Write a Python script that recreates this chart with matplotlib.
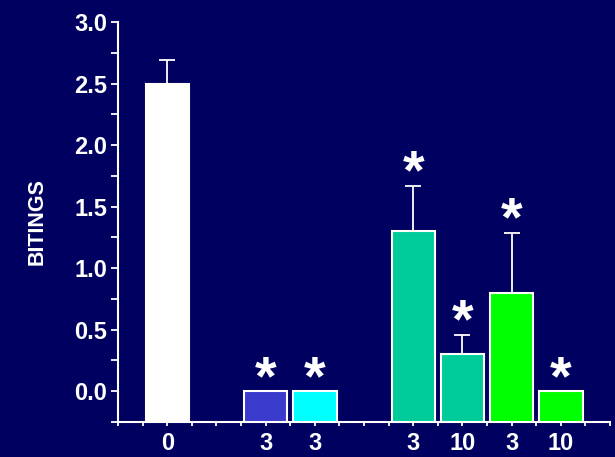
import matplotlib
matplotlib.use("Agg")
import matplotlib.pyplot as plt
from matplotlib.ticker import MultipleLocator

# bar data
positions = [1, 3, 4, 6, 7, 8, 9]
labels = ["0", "3", "3", "3", "10", "3", "10"]
values = [2.5, 0.0, 0.0, 1.30, 0.30, 0.80, 0.0]
errors = [0.19, 0, 0, 0.37, 0.16, 0.49, 0]
colors = ["#ffffff", "#3a3acc", "#00ffff", "#00cc99", "#00cc99", "#00ff00", "#00ff00"]
starred = [False, True, True, True, True, True, True]

BG = "#000060"
YMIN = -0.25

plt.rcParams["font.family"] = ["Liberation Sans", "DejaVu Sans"]
plt.rcParams["font.weight"] = "bold"

fig = plt.figure(figsize=(6.15, 4.57), dpi=100, facecolor=BG)
ax = fig.add_axes([0.192, 0.0766, 0.8, 0.875], facecolor=BG)

heights = [v - YMIN for v in values]
ax.bar(positions, heights, bottom=YMIN, width=0.88, color=colors,
       edgecolor="white", linewidth=1.5, zorder=3)
for x, v, e in zip(positions, values, errors):
    if e > 0:
        ax.errorbar(x, v, yerr=[[0], [e]], color="white", capsize=6,
                    elinewidth=1.3, capthick=1.3, zorder=2)

# significance marks sit just above each bar or its error bar
for x, v, e, s in zip(positions, values, errors, starred):
    if s:
        ax.annotate("*", xy=(x, v + e), xytext=(0, -2), textcoords="offset points",
                    color="white", fontsize=40, ha="center", va="baseline",
                    fontweight="bold")

ax.set_xlim(0, 10)
ax.set_ylim(YMIN, 3.0)
ax.set_xticks(positions)
ax.set_xticklabels(labels)
ax.xaxis.set_minor_locator(MultipleLocator(0.5))
ax.yaxis.set_minor_locator(MultipleLocator(0.25))
ax.set_yticks([0, 0.5, 1.0, 1.5, 2.0, 2.5, 3.0])
ax.set_yticklabels(["0.0", "0.5", "1.0", "1.5", "2.0", "2.5", "3.0"])

for side in ["top", "right"]:
    ax.spines[side].set_visible(False)
for side in ["left", "bottom"]:
    ax.spines[side].set_color("white")
    ax.spines[side].set_linewidth(1.5)

ax.tick_params(which="both", colors="white", width=1.3, labelcolor="white")
ax.tick_params(axis="y", which="both", length=5, labelsize=17, pad=3)
ax.tick_params(axis="x", which="both", length=3, labelsize=17, pad=4)
ax.set_ylabel("BITINGS", color="white", fontsize=15.5, fontweight="bold", labelpad=19)

fig.savefig("out.png", dpi=100, facecolor=BG)
